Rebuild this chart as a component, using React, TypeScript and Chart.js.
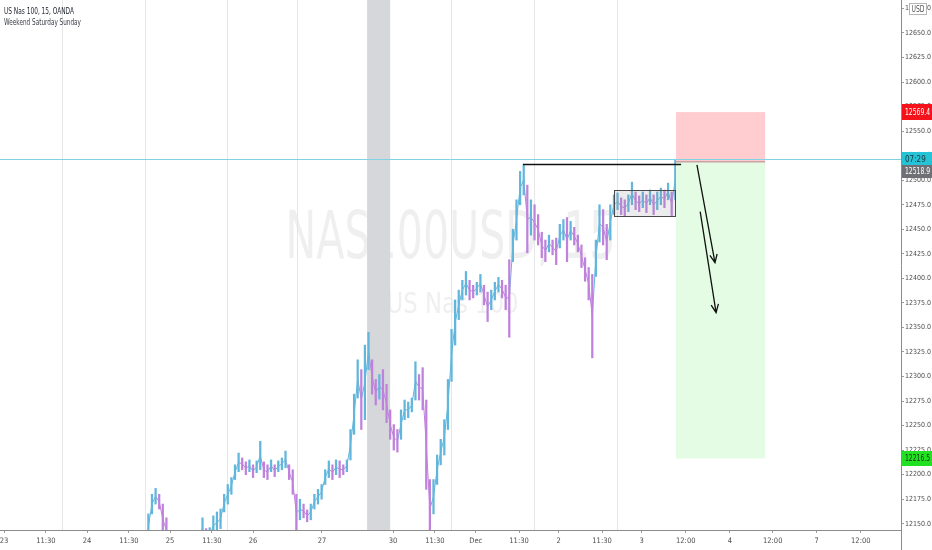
import React, { useEffect, useRef } from 'react';
import { Chart, registerables } from 'chart.js';

Chart.register(...registerables);

// ---- data (hourly high/low ranges, x = trading hours since Mon 23 00:00) ----
const START_HOUR = 40;
const barLow = [
  12135, 12160, 12170, 12165, 12140, 12130, 12112, 12105, 12100, 12108,
  12112, 12104, 12110, 12118, 12120, 12135, 12125, 12130, 12138, 12140,
  12145, 12162, 12170, 12180, 12195, 12203, 12205, 12200, 12203, 12197,
  12202, 12205, 12197, 12195, 12203, 12198, 12203, 12205, 12207, 12195,
  12180, 12142, 12154, 12156, 12152, 12154, 12165, 12170, 12175, 12190,
  12197, 12195, 12200, 12197, 12200, 12203, 12215, 12241, 12278, 12246,
  12256, 12307, 12282, 12271, 12277, 12266, 12253, 12236, 12225, 12223,
  12236, 12256, 12258, 12264, 12276, 12276, 12266, 12185, 12135, 12160,
  12190, 12210, 12220, 12246, 12295, 12332, 12358, 12378, 12383, 12378,
  12380, 12383, 12386, 12373, 12356, 12368, 12378, 12386, 12380, 12368,
  12340, 12417, 12439, 12475, 12485, 12426, 12444, 12439, 12434, 12421,
  12417, 12427, 12424, 12414, 12431, 12439, 12417, 12439, 12434, 12427,
  12411, 12397, 12378, 12319, 12402, 12437, 12434, 12419, 12439, 12465,
  12470, 12465, 12463, 12468, 12475, 12470, 12468, 12472, 12467, 12475,
  12465, 12470, 12475, 12472, 12480, 12464, 12480,
];
const barHigh = [
  12160, 12180, 12186, 12180, 12170, 12156, 12138, 12128, 12122, 12130,
  12135, 12126, 12132, 12138, 12140, 12156, 12145, 12146, 12158, 12162,
  12165, 12180, 12190, 12197, 12210, 12222, 12217, 12213, 12215, 12210,
  12214, 12234, 12213, 12210, 12215, 12210, 12214, 12217, 12224, 12210,
  12205, 12180, 12175, 12170, 12164, 12170, 12180, 12185, 12190, 12205,
  12214, 12210, 12215, 12214, 12210, 12215, 12246, 12282, 12317, 12307,
  12332, 12345, 12317, 12297, 12302, 12307, 12292, 12266, 12251, 12246,
  12266, 12276, 12274, 12278, 12315, 12302, 12309, 12276, 12195, 12195,
  12220, 12236, 12256, 12297, 12348, 12378, 12388, 12398, 12407, 12398,
  12393, 12396, 12404, 12393, 12386, 12388, 12396, 12401, 12398, 12393,
  12419, 12450, 12480, 12509, 12516, 12495, 12480, 12475, 12465, 12447,
  12439, 12444, 12439, 12441, 12455, 12460, 12462, 12458, 12452, 12444,
  12434, 12421, 12411, 12404, 12439, 12475, 12470, 12455, 12475, 12485,
  12487, 12482, 12480, 12485, 12498, 12488, 12484, 12488, 12485, 12490,
  12485, 12488, 12492, 12490, 12497, 12488, 12521,
];

const xTickHours = [0, 11.6, 23, 34.6, 46, 57.6, 69, 88.1, 107.8, 119.4, 130.7, 142.7, 153.7, 165.7, 176.7, 188.9, 201.1, 213, 225.2, 237.4];
const xTickLabels = ['23', '11:30', '24', '11:30', '25', '11:30', '26', '27', '30', '11:30', 'Dec', '11:30', '2', '11:30', '3', '12:00', '4', '12:00', '7', '12:00'];
const yTickValues = [12150, 12175, 12200, 12225, 12250, 12275, 12300, 12325, 12350, 12375, 12400, 12425, 12450, 12475, 12500, 12525, 12550, 12575, 12600, 12625, 12650, 12675];
const X_MIN = -1.11;
const X_MAX = 248.54;
const Y_MIN = 12143.6;
const Y_MAX = 12683.6;

const sessionBreaks = [16.1, 39.1, 61.8, 81.2, 123.8, 146.8, 169.8];
const weekendBand = [100.6, 107.0];

const STOP_PRICE = 12569.4;
const ENTRY_PRICE = 12518.9;
const TARGET_PRICE = 12216.5;
const CURRENT_PRICE = 12521.6;
const COUNTDOWN = '07:29';
const positionHours = [186.2, 210.9];
const resistanceLine = [143.8, 187.6, 12516];
const rangeBox = [169.0, 185.9, 12463, 12490];
const arrowStart = [[192.0, 12515.7], [192.9, 12467.9]];
const arrowEnd = [[197.0, 12415.9], [197.3, 12365.1]];

const titleLine = 'US Nas 100, 15, OANDA';
const indicatorLine = 'Weekend Saturday Sunday';
const watermarkMain = 'NAS100USD, 15';
const watermarkSub = 'US Nas 100';

const FONT = "'Liberation Sans Narrow', 'DejaVu Sans Condensed', Roboto, sans-serif";
const UP = '#62b6dc';
const DOWN = '#bf82dc';

function drawArrow(ctx: CanvasRenderingContext2D, x1: number, y1: number, x2: number, y2: number) {
  const a = Math.atan2(y2 - y1, x2 - x1);
  const L = 9;
  const s = 0.42;
  ctx.beginPath();
  ctx.moveTo(x1, y1);
  ctx.lineTo(x2, y2);
  ctx.moveTo(x2 - L * Math.cos(a - s), y2 - L * Math.sin(a - s));
  ctx.lineTo(x2, y2);
  ctx.lineTo(x2 - L * Math.cos(a + s), y2 - L * Math.sin(a + s));
  ctx.stroke();
}

function narrowText(ctx: CanvasRenderingContext2D, text: string, x: number, y: number, sx: number) {
  ctx.save();
  ctx.translate(x, y);
  ctx.scale(sx, 1);
  ctx.fillText(text, 0, 0);
  ctx.restore();
}

function drawTag(ctx: CanvasRenderingContext2D, x: number, yc: number, w: number, h: number, text: string, bg: string, fg: string) {
  ctx.fillStyle = bg;
  ctx.fillRect(x, Math.round(yc - h / 2), w, h);
  ctx.fillStyle = fg;
  ctx.font = `8px ${FONT}`;
  ctx.textAlign = 'left';
  ctx.textBaseline = 'middle';
  const tw = ctx.measureText(text).width;
  const sx = Math.min(1, (w - 5) / tw);
  narrowText(ctx, text, x + 3, yc + 0.5, sx);
}

const overlayPlugin = {
  id: 'tvOverlay',
  beforeDatasetsDraw(chart: any) {
    const { ctx, chartArea: ca, scales } = chart;
    const xs = scales.x;
    ctx.save();
    // watermark
    ctx.fillStyle = 'rgba(120,123,134,0.12)';
    ctx.textAlign = 'center';
    ctx.textBaseline = 'alphabetic';
    const cx = (ca.left + ca.right) / 2;
    ctx.font = `66px ${FONT}`;
    let w = ctx.measureText(watermarkMain).width;
    narrowText(ctx, watermarkMain, cx, 258, 330 / w);
    ctx.font = `29px ${FONT}`;
    w = ctx.measureText(watermarkSub).width;
    narrowText(ctx, watermarkSub, cx + 2, 313, 132 / w);
    // session separators
    ctx.strokeStyle = '#e6e6e9';
    ctx.lineWidth = 1;
    sessionBreaks.forEach((h) => {
      const x = Math.round(xs.getPixelForValue(h)) + 0.5;
      ctx.beginPath();
      ctx.moveTo(x, ca.top);
      ctx.lineTo(x, ca.bottom);
      ctx.stroke();
    });
    // weekend band
    const b0 = xs.getPixelForValue(weekendBand[0]);
    const b1 = xs.getPixelForValue(weekendBand[1]);
    ctx.fillStyle = '#d6d7db';
    ctx.fillRect(b0, ca.top, b1 - b0, ca.bottom - ca.top);
    ctx.restore();
  },
  afterDatasetsDraw(chart: any) {
    const { ctx, chartArea: ca, scales } = chart;
    const xs = scales.x;
    const ys = scales.y;
    ctx.save();
    // position tool
    const p0 = xs.getPixelForValue(positionHours[0]);
    const p1 = xs.getPixelForValue(positionHours[1]);
    const yStop = ys.getPixelForValue(STOP_PRICE);
    const yEntry = ys.getPixelForValue(ENTRY_PRICE);
    const yTarget = ys.getPixelForValue(TARGET_PRICE);
    ctx.fillStyle = '#ffcdcf';
    ctx.fillRect(p0, yStop, p1 - p0, yEntry - yStop);
    ctx.fillStyle = '#e4fce4';
    ctx.fillRect(p0, yEntry, p1 - p0, yTarget - yEntry);
    ctx.strokeStyle = '#c9a3a5';
    ctx.lineWidth = 1.5;
    ctx.beginPath();
    ctx.moveTo(p0, yEntry);
    ctx.lineTo(p1, yEntry);
    ctx.stroke();
    // current price line
    const yCur = Math.round(ys.getPixelForValue(CURRENT_PRICE)) + 0.5;
    ctx.strokeStyle = '#7fd3e3';
    ctx.lineWidth = 1;
    ctx.beginPath();
    ctx.moveTo(ca.left, yCur);
    ctx.lineTo(ca.right, yCur);
    ctx.stroke();
    // resistance line
    const yr = ys.getPixelForValue(resistanceLine[2]);
    ctx.strokeStyle = '#111111';
    ctx.lineWidth = 1.6;
    ctx.beginPath();
    ctx.moveTo(xs.getPixelForValue(resistanceLine[0]), yr);
    ctx.lineTo(xs.getPixelForValue(resistanceLine[1]), yr);
    ctx.stroke();
    // range rectangle
    const rx0 = xs.getPixelForValue(rangeBox[0]);
    const rx1 = xs.getPixelForValue(rangeBox[1]);
    const ry0 = ys.getPixelForValue(rangeBox[3]);
    const ry1 = ys.getPixelForValue(rangeBox[2]);
    ctx.fillStyle = 'rgba(150,150,160,0.18)';
    ctx.fillRect(rx0, ry0, rx1 - rx0, ry1 - ry0);
    ctx.strokeStyle = '#4a4a4a';
    ctx.lineWidth = 1;
    ctx.strokeRect(Math.round(rx0) + 0.5, Math.round(ry0) + 0.5, Math.round(rx1 - rx0), Math.round(ry1 - ry0));
    // arrows
    ctx.strokeStyle = '#111111';
    ctx.lineWidth = 1.3;
    arrowStart.forEach((s, i) => {
      const e = arrowEnd[i];
      drawArrow(ctx, xs.getPixelForValue(s[0]), ys.getPixelForValue(s[1]), xs.getPixelForValue(e[0]), ys.getPixelForValue(e[1]));
    });
    ctx.restore();
  },
  afterDraw(chart: any) {
    const { ctx, chartArea: ca, scales, width, height } = chart;
    const ys = scales.y;
    ctx.save();
    // axis line extension
    ctx.strokeStyle = '#8c8c8c';
    ctx.lineWidth = 1;
    ctx.beginPath();
    ctx.moveTo(ca.right + 0.5, ca.bottom);
    ctx.lineTo(ca.right + 0.5, height);
    ctx.stroke();
    const tx = ca.right + 1;
    const tw = width - tx;
    drawTag(ctx, tx, ys.getPixelForValue(STOP_PRICE), tw, 16, STOP_PRICE.toFixed(1), '#f5131b', '#ffffff');
    const yc = ys.getPixelForValue(CURRENT_PRICE);
    drawTag(ctx, tx, yc, tw, 14, COUNTDOWN, '#26c3d6', '#15353b');
    drawTag(ctx, tx, yc + 12.5, tw, 13, ENTRY_PRICE.toFixed(1), '#6f7075', '#ffffff');
    drawTag(ctx, tx, ys.getPixelForValue(TARGET_PRICE), tw, 15, TARGET_PRICE.toFixed(1), '#22e022', '#1b2b1b');
    // currency badge
    ctx.fillStyle = '#ffffff';
    ctx.fillRect(909, 3, 18, 12);
    ctx.strokeStyle = '#b5b5b5';
    ctx.strokeRect(909.5, 3.5, 17, 11);
    ctx.fillStyle = '#555555';
    ctx.font = `8px ${FONT}`;
    ctx.textAlign = 'left';
    ctx.textBaseline = 'middle';
    const uw = ctx.measureText('USD').width;
    narrowText(ctx, 'USD', 911.5, 9.5, Math.min(1, 13 / uw));
    // legend text
    ctx.textAlign = 'left';
    ctx.textBaseline = 'alphabetic';
    ctx.font = `9px ${FONT}`;
    ctx.fillStyle = '#1e222d';
    narrowText(ctx, titleLine, 4, 14, 70 / ctx.measureText(titleLine).width);
    ctx.fillStyle = '#3a3d46';
    narrowText(ctx, indicatorLine, 4, 25, 77 / ctx.measureText(indicatorLine).width);
    ctx.restore();
  },
};

export default function App() {
  const canvasRef = useRef<HTMLCanvasElement | null>(null);

  useEffect(() => {
    document.body.style.margin = '0';
    const canvas = canvasRef.current;
    if (!canvas) return;
    const mids = barLow.map((lo, i) => (lo + barHigh[i]) / 2);
    const colors = mids.map((m, i) => (i === 0 || m >= mids[i - 1] ? UP : DOWN));
    const chart = new Chart(canvas, {
      type: 'bar',
      data: {
        datasets: [
          {
            type: 'line',
            data: mids.map((m, i) => ({ x: START_HOUR + i, y: m })),
            borderWidth: 1,
            borderColor: UP,
            pointRadius: 0,
            tension: 0,
            segment: {
              borderColor: (c: any) => (c.p1.parsed.y >= c.p0.parsed.y ? UP : DOWN),
            },
            order: 1,
          } as any,
          {
            type: 'bar',
            data: barLow.map((lo, i) => ({ x: START_HOUR + i, y: [lo, barHigh[i]] })) as any,
            backgroundColor: colors,
            borderWidth: 0,
            barThickness: 1.6,
            grouped: false,
            order: 0,
          } as any,
        ],
      },
      options: {
        animation: false,
        responsive: false,
        events: [],
        layout: { padding: 0 },
        plugins: { legend: { display: false }, tooltip: { enabled: false }, title: { display: false } },
        scales: {
          x: {
            type: 'linear',
            min: X_MIN,
            max: X_MAX,
            offset: false,
            grid: { drawOnChartArea: false, offset: false, tickLength: 3, color: '#9a9a9a' },
            border: { display: true, color: '#8c8c8c' },
            afterBuildTicks: (scale: any) => {
              scale.ticks = xTickHours.map((v) => ({ value: v }));
            },
            afterFit: (scale: any) => {
              scale.height = 20;
              scale.paddingLeft = 0;
              scale.paddingRight = 0;
            },
            ticks: {
              autoSkip: false,
              maxRotation: 0,
              minRotation: 0,
              padding: 4,
              color: '#4d4d4d',
              font: { size: 7.5, family: FONT },
              callback: (_v: any, i: number) => xTickLabels[i],
            },
          },
          y: {
            type: 'linear',
            position: 'right',
            min: Y_MIN,
            max: Y_MAX,
            grid: { drawOnChartArea: false, tickLength: 3, color: '#9a9a9a' },
            border: { display: true, color: '#8c8c8c' },
            afterBuildTicks: (scale: any) => {
              scale.ticks = yTickValues.map((v) => ({ value: v }));
            },
            afterFit: (scale: any) => {
              scale.width = 31;
              scale.paddingTop = 0;
              scale.paddingBottom = 0;
            },
            ticks: {
              padding: 1,
              color: '#4d4d4d',
              font: { size: 7, family: FONT },
              callback: (v: any) => Number(v).toFixed(1),
            },
          },
        },
      } as any,
      plugins: [overlayPlugin],
    });
    return () => chart.destroy();
  }, []);

  return (
    <div style={{ position: 'fixed', left: 0, top: 0, width: 932, height: 550 }}>
      <canvas ref={canvasRef} width={932} height={550} style={{ display: 'block' }} />
    </div>
  );
}
